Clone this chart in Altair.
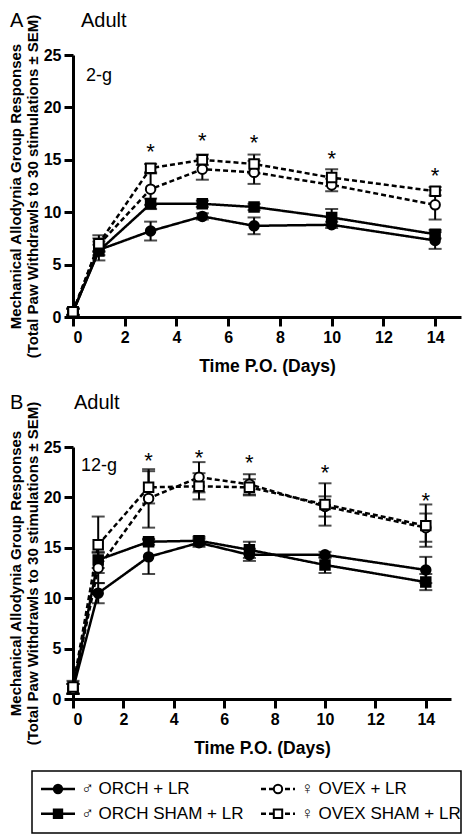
import altair as alt
import pandas as pd

FONT = "Liberation Sans"

days = [0, 1, 3, 5, 7, 10, 14]
groups = ["♂ ORCH + LR", "♂ ORCH SHAM + LR", "♀ OVEX + LR", "♀ OVEX SHAM + LR"]

# Panel A (2-g)
a_orch = [0.5, 6.4, 8.2, 9.6, 8.7, 8.8, 7.3]
a_orch_sem = [0.3, 0.5, 0.9, 0.3, 0.8, 0.3, 0.8]
a_orch_sham = [0.5, 6.3, 10.8, 10.8, 10.5, 9.5, 7.9]
a_orch_sham_sem = [0.3, 0.9, 0.5, 0.3, 0.3, 0.8, 0.4]
a_ovex = [0.5, 6.9, 12.2, 14.1, 13.8, 12.6, 10.7]
a_ovex_sem = [0.3, 0.6, 1.5, 1.0, 1.1, 0.6, 1.4]
a_ovex_sham = [0.5, 7.0, 14.2, 15.0, 14.6, 13.3, 12.0]
a_ovex_sham_sem = [0.3, 0.8, 0.4, 0.5, 0.9, 0.8, 0.4]

# Panel B (12-g)
b_orch = [1.0, 10.5, 14.1, 15.5, 14.3, 14.3, 12.8]
b_orch_sem = [0.5, 1.0, 1.7, 0.4, 0.6, 0.3, 1.3]
b_orch_sham = [1.0, 13.8, 15.6, 15.7, 14.8, 13.3, 11.6]
b_orch_sham_sem = [0.5, 0.8, 0.3, 0.4, 0.8, 0.8, 0.8]
b_ovex = [1.0, 13.0, 19.9, 22.0, 21.3, 19.1, 17.0]
b_ovex_sem = [0.5, 1.5, 2.9, 1.5, 1.0, 1.0, 1.4]
b_ovex_sham = [1.2, 15.3, 21.0, 21.1, 21.0, 19.3, 17.2]
b_ovex_sham_sem = [0.6, 2.8, 1.6, 1.3, 0.8, 2.1, 2.1]

star_days = [3, 5, 7, 10, 14]
a_star_y = [16.2, 17.3, 17.1, 15.6, 13.9]
b_star_y = [24.1, 24.4, 23.9, 22.9, 20.1]

x_ticks = [0, 2, 4, 6, 8, 10, 12, 14]
y_ticks = [0, 5, 10, 15, 20, 25]
y_title = ["Mechanical Allodynia Group Responses",
           "(Total Paw Withdrawls to 30 stimulations ± SEM)"]
x_title = "Time P.O. (Days)"


def long_df(vals, sems):
    rows = []
    for g, v, s in zip(groups, vals, sems):
        for d, vi, si in zip(days, v, s):
            rows.append(dict(day=d, group=g, value=vi, lo=vi - si, hi=vi + si))
    return pd.DataFrame(rows)


dfA = long_df([a_orch, a_orch_sham, a_ovex, a_ovex_sham],
              [a_orch_sem, a_orch_sham_sem, a_ovex_sem, a_ovex_sham_sem])
dfB = long_df([b_orch, b_orch_sham, b_ovex, b_ovex_sham],
              [b_orch_sem, b_orch_sham_sem, b_ovex_sem, b_ovex_sham_sem])

dash_scale = alt.Scale(domain=groups, range=[[1, 0], [1, 0], [5, 3], [5, 3]])
shape_scale = alt.Scale(domain=groups, range=["circle", "square", "circle", "square"])
fill_scale = alt.Scale(domain=groups, range=["black", "black", "white", "white"])


def panel(df, star_y, letter, sub, width, height, sub_pos, head):
    xax = alt.Axis(values=x_ticks, title=x_title, titlePadding=12)
    yax = alt.Axis(values=y_ticks, title=y_title, titlePadding=3)
    xs = alt.Scale(domain=[0, 15], nice=False)
    ys = alt.Scale(domain=[0, 25], nice=False)
    X = alt.X("day:Q", scale=xs, axis=xax)

    base = alt.Chart(df)
    lines = base.mark_line(color="black", strokeWidth=2.5).encode(
        x=X,
        y=alt.Y("value:Q", scale=ys, axis=yax),
        strokeDash=alt.StrokeDash("group:N", scale=dash_scale, legend=None),
        detail="group:N",
    )
    err = base.mark_rule(color="black", strokeWidth=2).encode(
        x=X, y=alt.Y("lo:Q", scale=ys, axis=yax), y2="hi:Q")
    cap_lo = base.mark_tick(color="black", thickness=2, size=13, orient="horizontal").encode(
        x=X, y=alt.Y("lo:Q", scale=ys, axis=yax))
    cap_hi = base.mark_tick(color="black", thickness=2, size=13, orient="horizontal").encode(
        x=X, y=alt.Y("hi:Q", scale=ys, axis=yax))
    pts = base.mark_point(size=90, strokeWidth=2, stroke="black", opacity=1, fillOpacity=1).encode(
        x=X,
        y=alt.Y("value:Q", scale=ys, axis=yax),
        shape=alt.Shape("group:N", scale=shape_scale, legend=None),
        fill=alt.Fill("group:N", scale=fill_scale, legend=None),
    )
    stars = alt.Chart(pd.DataFrame({"day": star_days, "value": star_y})).mark_text(
        text="*", fontSize=22, font=FONT, baseline="alphabetic", dy=12, color="black"
    ).encode(x=X, y=alt.Y("value:Q", scale=ys, axis=yax))

    letter_txt = alt.Chart(pd.DataFrame({"t": [letter]})).mark_text(
        align="left", baseline="alphabetic", fontSize=20, font=FONT, color="black"
    ).encode(x=alt.value(-63), y=alt.value(head[0]), text="t:N")
    adult_txt = alt.Chart(pd.DataFrame({"t": ["Adult"]})).mark_text(
        align="left", baseline="alphabetic", fontSize=20, font=FONT, color="black"
    ).encode(x=alt.value(head[1]), y=alt.value(head[0]), text="t:N")
    sub_txt = alt.Chart(pd.DataFrame({"t": [sub]})).mark_text(
        align="left", baseline="alphabetic", fontSize=18, font=FONT, color="black"
    ).encode(x=alt.value(sub_pos[0]), y=alt.value(sub_pos[1]), text="t:N")

    return alt.layer(lines, err, cap_lo, cap_hi, pts, stars, letter_txt, adult_txt, sub_txt).properties(
        width=width, height=height)


topA = panel(dfA, a_star_y, "A", "2-g", 388, 262, (13, 26), (-28, 8))
botB = panel(dfB, b_star_y, "B", "12-g", 378, 252, (8, 24), (-38, 1))

# legend key (panel shares the plot-area left edge of the panels above)
leg = pd.DataFrame({"group": groups, "col": [0, 0, 1, 1], "row": [0, 1, 0, 1]})
LX = alt.X("col:Q", scale=alt.Scale(domain=[0, 1], range=[-15, 205]), axis=None)
LY = alt.Y("row:Q", scale=alt.Scale(domain=[0, 1], range=[18, 42.7]), axis=None)
lbase = alt.Chart(leg)
l_line = lbase.mark_rule(color="black", strokeWidth=2.5, xOffset=-17, x2Offset=17).encode(
    x=LX, x2="col:Q", y=LY,
    strokeDash=alt.StrokeDash("group:N", scale=dash_scale, legend=None))
l_pts = lbase.mark_point(size=70, strokeWidth=2, stroke="black", opacity=1, fillOpacity=1).encode(
    x=LX, y=LY,
    shape=alt.Shape("group:N", scale=shape_scale, legend=None),
    fill=alt.Fill("group:N", scale=fill_scale, legend=None))
l_txt = lbase.mark_text(align="left", baseline="middle", dx=23, fontSize=17, font=FONT, color="black").encode(
    x=LX, y=LY, text="group:N")
l_box = alt.Chart(pd.DataFrame({"a": [0]})).mark_rect(
    fillOpacity=0, stroke="black", strokeWidth=1.5).encode(
    x=alt.value(-41), x2=alt.value(388), y=alt.value(0), y2=alt.value(62))
legend = alt.layer(l_box, l_line, l_pts, l_txt).properties(width=388, height=62)

chart = alt.vconcat(
    alt.vconcat(topA, botB, spacing=18),
    legend,
    spacing=13,
).properties(padding={"top": 3, "left": 0, "right": 0, "bottom": 0}).configure_view(stroke=None).configure_axis(
    grid=False,
    domainColor="black", domainWidth=3,
    tickColor="black", tickWidth=3, tickSize=9,
    labelFont=FONT, labelFontSize=16, labelFontWeight="bold", labelColor="black", labelPadding=3,
    titleFont=FONT, titleColor="black", titleFontWeight="bold",
).configure_axisX(titleFontSize=17.5).configure_axisY(titleFontSize=15, titleLineHeight=17)

chart.save("out.html", embed_options={"renderer": "svg", "actions": False})
